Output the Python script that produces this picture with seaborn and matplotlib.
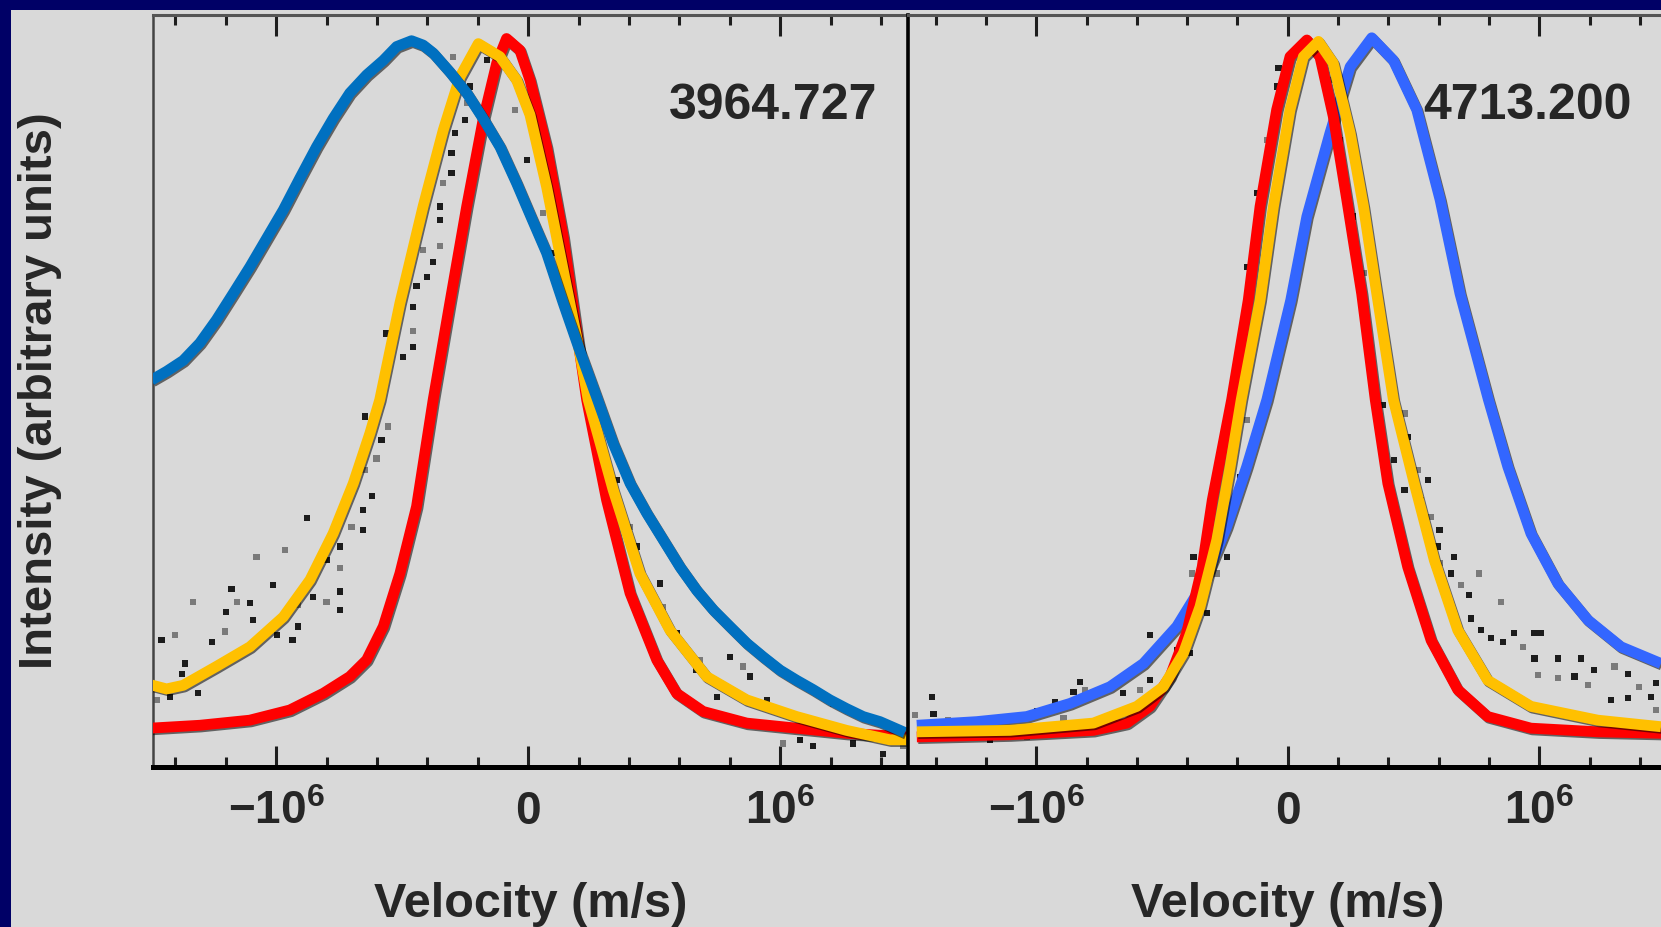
import numpy as np
import pandas as pd
import matplotlib
matplotlib.use("Agg")
import matplotlib.pyplot as plt
import matplotlib.patheffects as pe
from matplotlib.patches import Rectangle
import seaborn as sns

# ---------------- data (velocity in units of 10^6 m/s, intensity arbitrary) ----------------
line_labels = ["3964.727", "4713.200"]
tick_values = [-1.0, 0.0, 1.0]
tick_labels = [r"$-10^{6}$", r"$0$", r"$10^{6}$"]
x_label = "Velocity (m/s)"
y_label = "Intensity (arbitrary units)"

# left panel, blue fit
lb_v = [-1.495, -1.435, -1.369, -1.303, -1.237, -1.171, -1.104, -1.038, -0.972, -0.906, -0.840,
        -0.774, -0.708, -0.641, -0.575, -0.522, -0.463, -0.417, -0.377, -0.311, -0.244, -0.179,
        -0.112, -0.046, 0.007, 0.073, 0.139, 0.205, 0.271, 0.337, 0.404, 0.470, 0.536, 0.602,
        0.668, 0.734, 0.800, 0.867, 0.933, 0.999, 1.065, 1.131, 1.197, 1.263, 1.329, 1.396, 1.495]
lb_y = [0.532, 0.544, 0.559, 0.583, 0.615, 0.651, 0.688, 0.727, 0.766, 0.810, 0.853,
        0.892, 0.927, 0.952, 0.972, 0.991, 0.999, 0.993, 0.982, 0.956, 0.927, 0.892,
        0.853, 0.803, 0.760, 0.707, 0.638, 0.572, 0.509, 0.445, 0.390, 0.349, 0.312, 0.275,
        0.243, 0.216, 0.193, 0.170, 0.151, 0.133, 0.119, 0.106, 0.092, 0.080, 0.069, 0.062, 0.047]

# left panel, red fit
lr_v = [-1.501, -1.303, -1.105, -0.946, -0.813, -0.708, -0.641, -0.575, -0.509, -0.443, -0.377,
        -0.311, -0.244, -0.179, -0.125, -0.086, -0.033, 0.007, 0.073, 0.139, 0.205, 0.232,
        0.311, 0.404, 0.510, 0.589, 0.694, 0.867, 1.065, 1.263, 1.502]
lr_y = [0.053, 0.057, 0.064, 0.078, 0.101, 0.124, 0.147, 0.193, 0.266, 0.358, 0.505,
        0.638, 0.771, 0.890, 0.968, 1.002, 0.986, 0.945, 0.853, 0.729, 0.569, 0.505,
        0.367, 0.239, 0.147, 0.101, 0.076, 0.060, 0.053, 0.046, 0.041]

# left panel, yellow fit
ly_v = [-1.501, -1.435, -1.369, -1.237, -1.104, -0.972, -0.866, -0.774, -0.694, -0.628, -0.589,
        -0.509, -0.417, -0.337, -0.271, -0.198, -0.112, -0.046, 0.007, 0.073, 0.139, 0.205,
        0.238, 0.337, 0.443, 0.562, 0.708, 0.867, 1.065, 1.263, 1.435, 1.502]
ly_y = [0.113, 0.107, 0.112, 0.138, 0.165, 0.206, 0.257, 0.321, 0.390, 0.459, 0.505,
        0.638, 0.771, 0.876, 0.949, 0.995, 0.977, 0.945, 0.897, 0.798, 0.683, 0.569,
        0.505, 0.381, 0.266, 0.188, 0.124, 0.092, 0.069, 0.050, 0.037, 0.037]

# right panel, blue fit
rb_v = [-1.475, -1.237, -1.038, -0.866, -0.707, -0.574, -0.441, -0.336, -0.243, -0.163, -0.083,
        0.012, 0.076, 0.168, 0.248, 0.334, 0.420, 0.513, 0.606, 0.685, 0.798, 0.875, 0.967,
        1.074, 1.193, 1.325, 1.484]
rb_y = [0.057, 0.062, 0.069, 0.087, 0.110, 0.142, 0.193, 0.252, 0.330, 0.413, 0.505,
        0.642, 0.757, 0.872, 0.963, 1.003, 0.972, 0.904, 0.780, 0.651, 0.505, 0.413, 0.321,
        0.252, 0.202, 0.165, 0.142]

# right panel, red fit
rr_v = [-1.475, -1.104, -0.773, -0.640, -0.548, -0.468, -0.402, -0.340, -0.300, -0.223, -0.157,
        -0.110, -0.044, 0.009, 0.076, 0.128, 0.181, 0.235, 0.294, 0.348, 0.398, 0.477, 0.570,
        0.676, 0.795, 0.967, 1.233, 1.484]
rr_y = [0.041, 0.044, 0.050, 0.060, 0.083, 0.124, 0.184, 0.275, 0.367, 0.505, 0.642,
        0.771, 0.904, 0.977, 1.000, 0.977, 0.895, 0.780, 0.651, 0.505, 0.390, 0.275, 0.174,
        0.106, 0.069, 0.053, 0.048, 0.046]

# right panel, yellow fit
ry_v = [-1.475, -1.104, -0.773, -0.600, -0.495, -0.415, -0.349, -0.282, -0.229, -0.185, -0.110,
        -0.057, 0.009, 0.062, 0.122, 0.181, 0.248, 0.301, 0.354, 0.420, 0.503, 0.583, 0.676,
        0.795, 0.967, 1.233, 1.484]
ry_y = [0.048, 0.050, 0.060, 0.083, 0.110, 0.156, 0.220, 0.312, 0.413, 0.505, 0.642,
        0.771, 0.904, 0.977, 0.998, 0.968, 0.872, 0.771, 0.651, 0.505, 0.390, 0.284, 0.188,
        0.119, 0.083, 0.064, 0.055]

# observed spectra (scanned points)
lo_v = [-1.475, -1.455, -1.422, -1.402, -1.375, -1.362, -1.329, -1.309, -1.256, -1.204, -1.200,
        -1.177, -1.155, -1.104, -1.091, -1.078, -1.012, -0.998, -0.965, -0.935, -0.912, -0.912,
        -0.879, -0.853, -0.800, -0.800, -0.747, -0.747, -0.747, -0.747, -0.701, -0.655, -0.655,
        -0.648, -0.648, -0.621, -0.602, -0.582, -0.562, -0.555, -0.496, -0.456, -0.456, -0.456,
        -0.443, -0.417, -0.403, -0.377, -0.350, -0.350, -0.350, -0.337, -0.304, -0.304, -0.297,
        -0.291, -0.251, -0.244, -0.231, -0.165, -0.053, -0.006, 0.046, 0.060, 0.093, 0.351,
        0.404, 0.430, 0.523, 0.536, 0.589, 0.668, 0.681, 0.748, 0.800, 0.853, 0.880, 0.946,
        1.012, 1.078, 1.131, 1.210, 1.290, 1.409, 1.488]
lo_y = [0.092, 0.174, 0.096, 0.181, 0.128, 0.142, 0.227, 0.101, 0.172, 0.186, 0.213,
        0.245, 0.227, 0.225, 0.202, 0.289, 0.250, 0.181, 0.298, 0.174, 0.193, 0.223,
        0.342, 0.234, 0.227, 0.284, 0.303, 0.273, 0.241, 0.216, 0.330, 0.353, 0.326,
        0.408, 0.482, 0.372, 0.424, 0.450, 0.596, 0.468, 0.564, 0.578, 0.600, 0.633,
        0.661, 0.711, 0.674, 0.695, 0.716, 0.752, 0.771, 0.803, 0.817, 0.844, 0.977,
        0.872, 0.890, 0.913, 0.936, 0.972, 0.904, 0.835, 0.848, 0.762, 0.707, 0.395,
        0.330, 0.303, 0.252, 0.220, 0.184, 0.133, 0.147, 0.096, 0.151, 0.138, 0.124, 0.092,
        0.032, 0.037, 0.028, 0.087, 0.032, 0.018, 0.028]

ro_v = [-1.482, -1.416, -1.409, -1.350, -1.263, -1.184, -1.038, -0.998, -0.925, -0.892, -0.852,
        -0.826, -0.806, -0.720, -0.654, -0.587, -0.548, -0.548, -0.468, -0.441, -0.388, -0.382,
        -0.375, -0.322, -0.282, -0.243, -0.190, -0.163, -0.163, -0.123, -0.083, -0.044, -0.037,
        0.168, 0.208, 0.261, 0.301, 0.378, 0.424, 0.464, 0.464, 0.477, 0.517, 0.530, 0.557,
        0.570, 0.596, 0.603, 0.603, 0.649, 0.662, 0.689, 0.722, 0.729, 0.762, 0.769, 0.808,
        0.848, 0.855, 0.901, 0.934, 0.981, 0.981, 0.994, 1.007, 1.074, 1.074, 1.140, 1.166,
        1.193, 1.219, 1.286, 1.299, 1.352, 1.352, 1.398, 1.445, 1.464, 1.464]
ro_y = [0.071, 0.096, 0.073, 0.064, 0.060, 0.037, 0.041, 0.076, 0.089, 0.067, 0.103,
        0.117, 0.106, 0.110, 0.101, 0.106, 0.181, 0.119, 0.184, 0.161, 0.156, 0.266,
        0.289, 0.211, 0.266, 0.289, 0.399, 0.477, 0.688, 0.789, 0.862, 0.936, 0.961,
        0.945, 0.862, 0.757, 0.679, 0.498, 0.422, 0.486, 0.381, 0.454, 0.408, 0.367, 0.395,
        0.344, 0.303, 0.326, 0.280, 0.266, 0.289, 0.250, 0.236, 0.204, 0.266, 0.188, 0.177,
        0.227, 0.172, 0.184, 0.165, 0.184, 0.149, 0.126, 0.184, 0.149, 0.122, 0.124, 0.149,
        0.112, 0.133, 0.092, 0.138, 0.094, 0.128, 0.110, 0.096, 0.115, 0.078]

# ---------------- style ----------------
NAVY = "#000066"
BG = "#d9d9d9"
TXT = "#262626"
RED = "#ff0000"
YEL = "#ffc000"
BLUE_L = "#0070c0"
BLUE_R = "#3366ff"

sns.set_style("white")
plt.rcParams["font.family"] = ["Liberation Sans", "DejaVu Sans"]
plt.rcParams["mathtext.fontset"] = "custom"
plt.rcParams["mathtext.rm"] = "Liberation Sans:bold"
plt.rcParams["mathtext.bf"] = "Liberation Sans:bold"
plt.rcParams["mathtext.it"] = "Liberation Sans:bold:italic"
plt.rcParams["mathtext.sf"] = "Liberation Sans:bold"
plt.rcParams["lines.solid_capstyle"] = "butt"
plt.rcParams["lines.solid_joinstyle"] = "round"

W, H = 1661, 927
fig = plt.figure(figsize=(W / 100, H / 100), dpi=100, facecolor=NAVY)
fig.patches.append(Rectangle((11 / W, 0), 1, 1 - 10 / H, transform=fig.transFigure,
                             facecolor=BG, edgecolor="none", zorder=-5))

ax_bottom = 1 - 766.7 / H
ax_height = (766.7 - 15) / H
axL = fig.add_axes([152.7 / W, ax_bottom, (908 - 152.7) / W, ax_height])
axR = fig.add_axes([908 / W, ax_bottom, 759.5 / W, ax_height])

shadow = [pe.SimpleLineShadow(offset=(1.0, -1.2), shadow_color="black", alpha=0.55, rho=1.0),
          pe.Normal()]
LW = 7.8

def draw_curve(ax, v, y, color, z):
    sns.lineplot(x=v, y=y, ax=ax, color=color, linewidth=LW, sort=False, estimator=None,
                 path_effects=shadow, zorder=z)

def draw_obs(ax, v, y):
    cols = ["#1c1c1c" if i % 3 else "#7a7a7a" for i in range(len(v))]
    sns.scatterplot(x=v, y=y, ax=ax, marker="s", s=20, c=cols, edgecolor="none",
                    linewidth=0, zorder=2)

draw_obs(axL, lo_v, lo_y)
draw_curve(axL, lr_v, lr_y, RED, 3)
draw_curve(axL, ly_v, ly_y, YEL, 4)
draw_curve(axL, lb_v, lb_y, BLUE_L, 5)

draw_obs(axR, ro_v, ro_y)
draw_curve(axR, rb_v, rb_y, BLUE_R, 3)
draw_curve(axR, rr_v, rr_y, RED, 4)
draw_curve(axR, ry_v, ry_y, YEL, 5)

limits = {axL: (-1.49, 1.507), axR: (-1.51, 1.51)}
for ax in (axL, axR):
    ax.patch.set_visible(False)
    ax.set_xlim(*limits[ax])
    ax.set_ylim(0, (766.7 - 15) / 726.7)
    ax.set_yticks([])
    ax.tick_params(axis="x", which="both", direction="in", top=True, bottom=True,
                   color="#1e1e1e", width=2.2, pad=41, labelsize=33, labelcolor=TXT)
    ax.tick_params(axis="x", which="major", length=15)
    ax.tick_params(axis="x", which="minor", length=7.5)
    ax.set_xticks(tick_values, tick_labels, va="baseline")
    ax.set_xticks(np.round(np.arange(-1.4, 1.41, 0.2), 2), minor=True)
    ax.spines["bottom"].set_color("black")
    ax.spines["bottom"].set_linewidth(3.6)
    ax.spines["top"].set_color("#555555")
    ax.spines["top"].set_linewidth(2.2)
    ax.set_xlabel(x_label, fontsize=35, fontweight="bold", color=TXT, va="baseline")
    ax.xaxis.set_label_coords(0.5, (766.7 - 917) / 751.7)
    ax.set_ylabel("")

axL.spines["left"].set_color("#444444")
axL.spines["left"].set_linewidth(1.8)
axL.spines["right"].set_color("black")
axL.spines["right"].set_linewidth(2.6)
axL.spines["right"].set_zorder(10)
axR.spines["left"].set_visible(False)
axR.spines["right"].set_visible(False)

axL.set_ylabel(y_label, fontsize=34, fontweight="bold", color=TXT, va="center")
axL.yaxis.set_label_coords((40 - 152.7) / 755.3, 0.5)

axL.text(0.959, (766.7 - 119) / 751.7, line_labels[0], transform=axL.transAxes,
         ha="right", va="baseline", fontsize=36, fontweight="bold", color=TXT)
axR.text((1632 - 908) / 759.5, (766.7 - 119) / 751.7, line_labels[1], transform=axR.transAxes,
         ha="right", va="baseline", fontsize=36, fontweight="bold", color=TXT)

fig.savefig("out.png", dpi=100, facecolor=NAVY)
